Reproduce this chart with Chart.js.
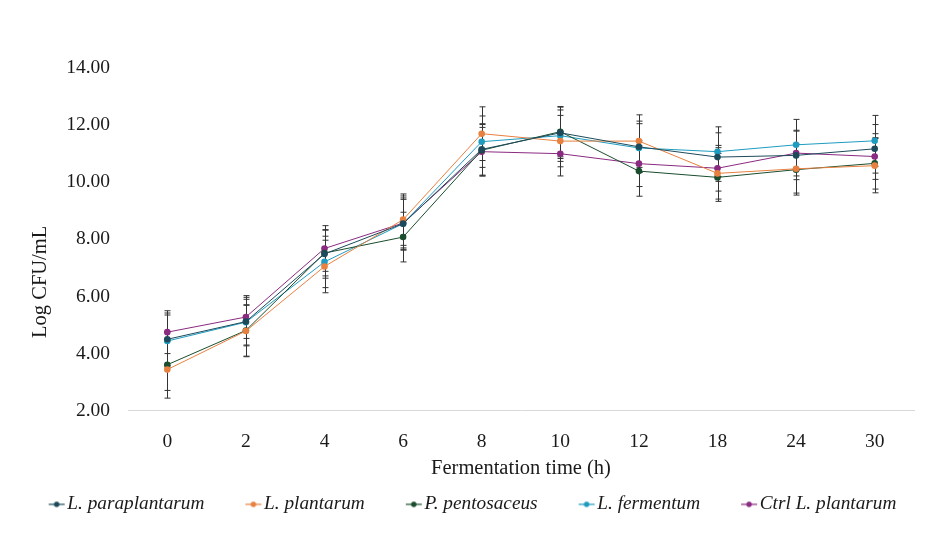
<!DOCTYPE html>
<html>
<head>
<meta charset="utf-8">
<script src="https://cdn.jsdelivr.net/npm/chart.js@4.4.1/dist/chart.umd.min.js"></script>
<style>
html,body{margin:0;padding:0;background:#fff;}
#wrap{width:952px;height:543px;position:relative;}
</style>
</head>
<body>
<div id="wrap"><canvas id="c"></canvas></div>
<script>
const categories = ['0','2','4','6','8','10','12','18','24','30'];
const seriesNames = ['L. paraplantarum','L. plantarum','P. pentosaceus','L. fermentum','Ctrl L. plantarum'];
const paraplantarum = [4.50,5.12,7.49,8.55,11.15,11.73,11.24,10.88,10.94,11.17];
const plantarum     = [3.44,4.79,7.05,8.69,11.70,11.44,11.44,10.31,10.47,10.58];
const pentosaceus   = [3.61,4.81,7.52,8.08,11.12,11.77,10.39,10.17,10.44,10.66];
const fermentum     = [4.44,5.10,7.21,8.55,11.42,11.63,11.20,11.07,11.31,11.45];
const ctrlPlantarum = [4.75,5.28,7.68,8.57,11.07,11.00,10.65,10.49,11.02,10.90];
const sdParaplantarum = [0.92,0.85,0.85,0.90,0.90,0.90,0.90,0.85,0.85,0.85];
const sdPlantarum     = [1.00,0.90,0.92,0.90,0.94,0.90,0.92,0.90,0.85,0.95];
const sdPentosaceus   = [0.90,0.90,0.80,0.87,0.90,0.88,0.88,0.84,0.89,0.90];
const sdFermentum     = [0.91,0.80,0.90,0.85,0.90,0.90,0.85,0.87,0.89,0.89];
const sdCtrl          = [0.75,0.75,0.80,0.95,0.85,0.78,0.80,0.80,0.80,0.80];
const yTicks = [2,4,6,8,10,12,14];
const colors = ['#1d4a5a','#e8803f','#1a4d2e','#1f9bbf','#8a2a80'];

const values = [paraplantarum, plantarum, pentosaceus, fermentum, ctrlPlantarum];
const sds = [sdParaplantarum, sdPlantarum, sdPentosaceus, sdFermentum, sdCtrl];

const FONT = '"Liberation Serif", "DejaVu Serif", serif';

// legend icon: transparent left part gives spacing, line+dot at right
function makeIcon(color){
  const cv = document.createElement('canvas');
  cv.width = 56; cv.height = 8;
  const g = cv.getContext('2d');
  g.strokeStyle = color; g.lineWidth = 1.2;
  g.beginPath(); g.moveTo(39,4); g.lineTo(55,4); g.stroke();
  g.fillStyle = color;
  g.beginPath(); g.arc(47,4,2.7,0,Math.PI*2); g.fill();
  return cv;
}
const icons = colors.map(makeIcon);

const errorBars = {
  id:'errorBars',
  beforeDatasetsDraw(chart){
    const ctx = chart.ctx, y = chart.scales.y;
    ctx.save();
    ctx.strokeStyle = '#333333';
    ctx.lineWidth = 1;
    chart.data.datasets.forEach((ds, di) => {
      const meta = chart.getDatasetMeta(di);
      meta.data.forEach((pt, i) => {
        const v = ds.data[i], s = sds[di][i];
        const yt = y.getPixelForValue(v + s), yb = y.getPixelForValue(v - s);
        const x = Math.round(pt.x) + 0.5;
        ctx.beginPath();
        ctx.moveTo(x, yt); ctx.lineTo(x, yb);
        ctx.moveTo(x-3, yt); ctx.lineTo(x+3, yt);
        ctx.moveTo(x-3, yb); ctx.lineTo(x+3, yb);
        ctx.stroke();
      });
    });
    ctx.restore();
  }
};

const yTitle = {
  id:'yTitle',
  afterDraw(chart){
    const ctx = chart.ctx, a = chart.chartArea;
    ctx.save();
    ctx.translate(41, a.top + (a.bottom - a.top) * 0.624);
    ctx.rotate(-Math.PI/2);
    ctx.font = '20.5px ' + FONT;
    ctx.fillStyle = '#1a1a1a';
    ctx.textAlign = 'center';
    ctx.textBaseline = 'middle';
    ctx.fillText('Log CFU/mL', 0, 0);
    ctx.restore();
  }
};

new Chart(document.getElementById('c'), {
  type:'line',
  data:{
    labels: categories,
    datasets: values.map((d, i) => ({
      label: seriesNames[i],
      data: d,
      borderColor: colors[i],
      backgroundColor: colors[i],
      borderWidth: 1,
      pointRadius: 3.3,
      pointHoverRadius: 3.3,
      pointBorderWidth: 0,
      tension: 0
    }))
  },
  options:{
    responsive:true,
    maintainAspectRatio:false,
    animation:false,
    devicePixelRatio:1,
    layout:{padding:{left:0,right:38,top:68,bottom:19}},
    plugins:{
      tooltip:{enabled:false},
      legend:{
        position:'bottom',
        labels:{
          usePointStyle:true,
          pointStyleWidth:40,
          boxHeight:8,
          padding:10,
          color:'#1a1a1a',
          font:{family:FONT, size:19.3, style:'italic'},
          generateLabels(chart){
            const items = Chart.defaults.plugins.legend.labels.generateLabels(chart);
            items.forEach((it, i) => { it.pointStyle = icons[i]; });
            return items;
          }
        }
      }
    },
    scales:{
      x:{
        offset:true,
        afterFit(scale){ scale.height = 74; },
        grid:{display:false, drawTicks:false},
        border:{display:true, color:'#d9d9d9', width:1},
        ticks:{padding:19, color:'#1a1a1a', font:{family:FONT, size:19.5}},
        title:{display:true, text:'Fermentation time (h)', color:'#1a1a1a', font:{family:FONT, size:20.5}, padding:{top:3,bottom:4}}
      },
      y:{
        min:2, max:14,
        afterFit(scale){ scale.width = 128; },
        afterBuildTicks(scale){ scale.ticks = yTicks.map(v => ({value:v})); },
        grid:{display:false, drawTicks:false},
        border:{display:false},
        ticks:{padding:18, color:'#1a1a1a', font:{family:FONT, size:19.5}, callback:v => Number(v).toFixed(2)}
      }
    }
  },
  plugins:[errorBars, yTitle]
});
</script>
</body>
</html>
